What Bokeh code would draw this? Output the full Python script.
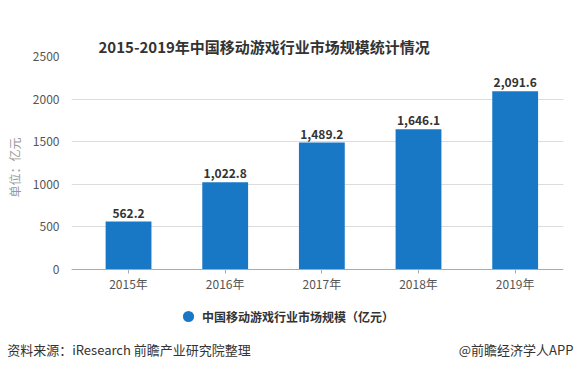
from bokeh.plotting import figure
from bokeh.models import (ColumnDataSource, Range1d, FixedTicker, LinearAxis, Legend, LegendItem)
from bokeh.core.properties import value
from bokeh.embed import file_html
from bokeh.resources import INLINE

years = ["2015年", "2016年", "2017年", "2018年", "2019年"]
market_size = [562.2, 1022.8, 1489.2, 1646.1, 2091.6]
y_ticks = [0, 500, 1000, 1500, 2000, 2500]
series_name = "中国移动游戏行业市场规模（亿元）"
title_text = "2015-2019年中国移动游戏行业市场规模统计情况"
unit_text = "单位：亿元"
source_text = "资料来源：iResearch 前瞻产业研究院整理"
credit_text = "@前瞻经济学人APP"

FONT = "Noto Sans CJK SC"
BLUE = "#1878c6"

xs = list(range(len(years)))
src = ColumnDataSource(dict(
    x=xs, y=market_size,
    lab=[f"{v:,.1f}" for v in market_size],
))

# the frame extends below zero so that the legend can sit inside it
p = figure(width=576, height=370, output_backend="svg", toolbar_location=None,
           x_range=Range1d(-0.59, 4.5), y_range=Range1d(-751, 2500),
           min_border_left=71, min_border_right=13, min_border_top=56, min_border_bottom=37)
p.outline_line_color = None
p.background_fill_color = "white"

p.vbar(x="x", top="y", width=0.474, source=src, color=BLUE, line_color=None)

p.text(x="x", y="y", text="lab", source=src, text_align="center", text_baseline="bottom",
       y_offset=-4, text_font=value(FONT), text_font_size="12px", text_font_style="bold",
       text_color="#333333")

# grid
p.xgrid.grid_line_color = None
p.ygrid.grid_line_color = "#dcdcdc"
p.ygrid.ticker = FixedTicker(ticks=y_ticks)

# main y axis
ya = p.yaxis[0]
ya.ticker = FixedTicker(ticks=y_ticks)
ya.axis_line_color = None
ya.major_tick_line_color = None
ya.minor_tick_line_color = None
ya.major_label_standoff = 6
ya.major_label_text_font = FONT
ya.major_label_text_font_size = "12px"
ya.major_label_text_color = "#555555"

# main x axis, drawn at y = 0
xa = p.xaxis[0]
xa.fixed_location = 0
xa.ticker = FixedTicker(ticks=xs)
xa.major_label_overrides = {i: y for i, y in zip(xs, years)}
xa.axis_line_color = "#aaaaaa"
xa.major_tick_line_color = "#aaaaaa"
xa.major_tick_out = 4
xa.major_tick_in = 0
xa.minor_tick_line_color = None
xa.major_label_standoff = 1
xa.major_label_text_font = FONT
xa.major_label_text_font_size = "12px"
xa.major_label_text_color = "#555555"

# unit label, vertical, left of the tick labels
unit_pos = 1197
unit_axis = LinearAxis(ticker=FixedTicker(ticks=[unit_pos]),
                       major_label_overrides={unit_pos: unit_text},
                       major_label_orientation="vertical",
                       axis_line_color=None, major_tick_line_color=None,
                       minor_tick_line_color=None, major_tick_out=0, major_tick_in=0,
                       major_label_standoff=6, major_label_text_font=FONT,
                       major_label_text_font_size="12px", major_label_text_color="#999999")
p.add_layout(unit_axis, "left")

# spacer above the frame, the title sits outside of it
spacer = LinearAxis(ticker=FixedTicker(ticks=[]), axis_line_color=None,
                    major_tick_line_color=None, minor_tick_line_color=None,
                    major_tick_out=27, major_tick_in=0, major_label_text_font_size="1px")
p.add_layout(spacer, "above")

p.title.text = title_text
p.title.align = "left"
p.title.offset = 27
p.title.standoff = 0
p.title.text_font = FONT
p.title.text_font_size = "15px"
p.title.text_font_style = "bold"
p.title.text_color = "#333333"

# legend (inside the frame, under the axis)
marker = p.scatter(x="x", y="y", source=src, marker="circle", size=0,
                   fill_color=BLUE, line_color=None)
legend = Legend(items=[LegendItem(label=series_name, renderers=[marker])],
                location=(103, 3), orientation="horizontal",
                label_text_font=FONT, label_text_font_size="12px",
                label_text_font_style="bold", label_text_color="#333333",
                glyph_width=28, glyph_height=28, label_standoff=0,
                padding=0, margin=0, border_line_color=None, background_fill_alpha=0)
p.add_layout(legend)

# source / credit line under the chart
notes = LinearAxis(ticker=FixedTicker(ticks=[0.005, 4.01]),
                   major_label_overrides={0.005: source_text, 4.01: credit_text},
                   axis_line_color=None, major_tick_line_color=None,
                   minor_tick_line_color=None, major_tick_out=0, major_tick_in=0,
                   major_label_standoff=6, major_label_text_font=FONT,
                   major_label_text_font_size="13px", major_label_text_color="#333333")
p.add_layout(notes, "below")

open("out.html", "w").write(file_html(p, INLINE))
